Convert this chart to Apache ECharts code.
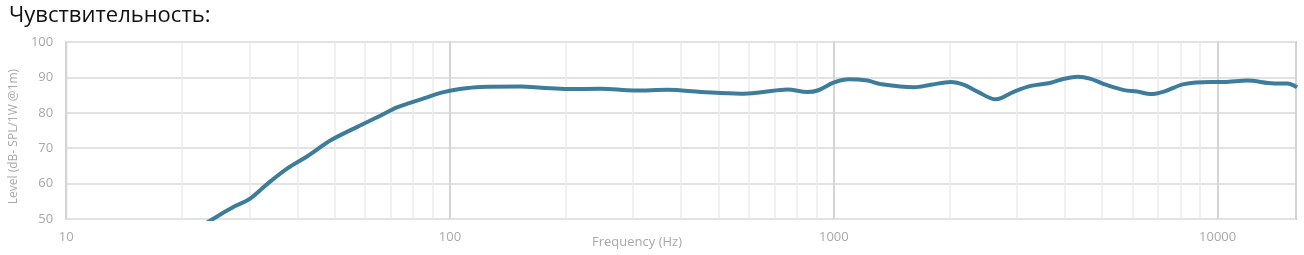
<!DOCTYPE html>
<html>
<head>
<meta charset="utf-8">
<script src="https://cdn.jsdelivr.net/npm/echarts@6/dist/echarts.min.js"></script>
<style>
html,body{margin:0;padding:0;background:#fff;}
#c{width:1304px;height:255px;}
</style>
</head>
<body>
<div id="c"></div>
<script>
// Frequency (Hz) and level (dB SPL/1W @1m)
const freqHz = [22.5, 24.1, 27.4, 30, 33.5, 37.7, 42.6, 49, 57.5, 65, 73, 84, 95, 106, 120, 153, 173, 203, 247, 302, 369, 451, 573, 646, 757, 853, 907, 1002, 1096, 1224, 1325, 1618, 1789, 2017, 2185, 2367, 2642, 2950, 3260, 3675, 3981, 4314, 4670, 5057, 5702, 6180, 6695, 7248, 8170, 9590, 10380, 11950, 14020, 15180, 16100];
const levelDb = [48, 50, 53.5, 55.6, 60, 64.3, 67.8, 72.3, 76.1, 78.9, 81.6, 83.8, 85.7, 86.7, 87.3, 87.4, 87.1, 86.7, 86.8, 86.3, 86.5, 85.9, 85.4, 85.8, 86.6, 85.9, 86.3, 88.6, 89.5, 89.1, 88.1, 87.2, 87.9, 88.7, 87.9, 86.0, 83.8, 86.0, 87.6, 88.5, 89.6, 90.2, 89.6, 88.1, 86.4, 86.0, 85.3, 86.0, 88.1, 88.7, 88.7, 89.1, 88.3, 88.3, 87.2];
// Minor grid frequencies
const minorGridHz = [20, 30, 40, 50, 60, 70, 80, 90, 200, 300, 400, 500, 600, 700, 800, 900, 2000, 3000, 4000, 5000, 6000, 7000, 8000, 9000];
const xRange = [10, 16000];
const yRange = [50, 100];
const yStep = 10;

const chart = echarts.init(document.getElementById('c'));
const labelFont = 'Open Sans';
chart.setOption({
  animation: false,
  title: {
    text: 'Чувствительность:',
    left: 4, top: 0,
    textStyle: {fontFamily: 'Open Sans', fontSize: 22, fontWeight: 'normal', color: '#111'}
  },
  grid: {
    left: 65, top: 42, width: 1231, height: 177,
    show: true, borderColor: '#c8c8c8', borderWidth: 2, containLabel: false
  },
  xAxis: {
    type: 'log', logBase: 10, min: xRange[0], max: xRange[1],
    axisLine: {show: false}, axisTick: {show: false},
    axisLabel: {color: '#a8a8a8', fontFamily: labelFont, fontSize: 13, margin: 12, showMaxLabel: false,
      formatter: v => String(Math.round(v))},
    splitLine: {show: true, lineStyle: {color: '#d4d4d4', width: 2}}
  },
  yAxis: {
    type: 'value', min: yRange[0], max: yRange[1], interval: yStep,
    name: 'Level (dB- SPL/1W @1m)', nameLocation: 'middle', nameGap: 44,
    nameTextStyle: {color: '#a8a8a8', fontFamily: labelFont, fontSize: 12, padding: [0, 12, 0, 0]},
    axisLine: {show: false}, axisTick: {show: false},
    axisLabel: {color: '#a8a8a8', fontFamily: labelFont, fontSize: 13, margin: 13},
    splitLine: {show: true, lineStyle: {color: '#e2e2e2', width: 2}}
  },
  graphic: [{
    type: 'text', x: 637, y: 242,
    style: {text: 'Frequency (Hz)', fill: '#a8a8a8', font: '13px "Open Sans"', textAlign: 'center', textVerticalAlign: 'middle'}
  }],
  series: [{
    type: 'line',
    data: freqHz.map((f, i) => [f, levelDb[i]]),
    smooth: 0.35,
    showSymbol: false,
    clip: true,
    z: 3,
    lineStyle: {color: '#3d7d9b', width: 4},
    markLine: {
      silent: true, symbol: 'none', z: 1,
      label: {show: false},
      lineStyle: {color: '#ebebeb', width: 1.5, type: 'solid'},
      data: minorGridHz.map(f => ({xAxis: f}))
    }
  }]
});
</script>
</body>
</html>
